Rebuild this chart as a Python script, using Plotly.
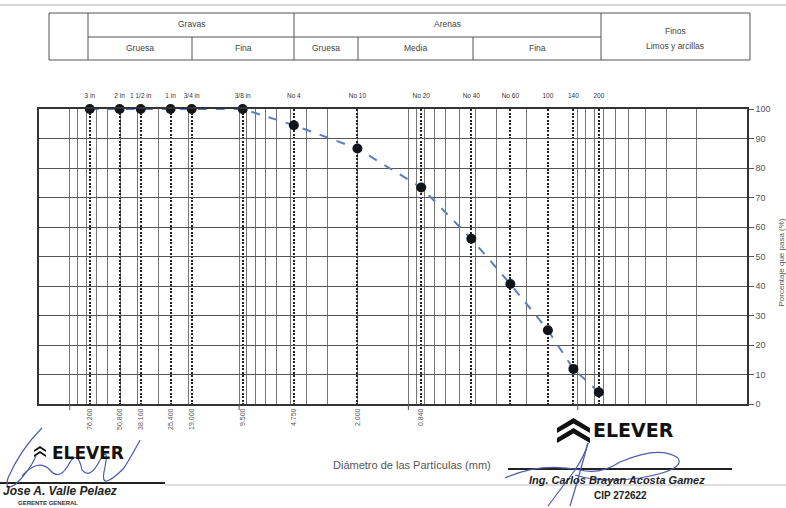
import numpy as np
import plotly.graph_objects as go

# Sieve series (ASTM) and percentage passing
sieve_names = ["3 in", "2 in", "1 1/2 in", "1 in", "3/4 in", "3/8 in", "No 4",
               "No 10", "No 20", "No 40", "No 60", "100", "140", "200"]
sieve_mm = [76.2, 50.8, 38.1, 25.4, 19.05, 9.525, 4.75, 2.0, 0.84, 0.425,
            0.25, 0.15, 0.106, 0.075]
size_labels = ["76.200", "50.800", "38.100", "25.400", "19.000", "9.500",
               "4.750", "2.000", "0.840", "", "", "", "", ""]
pct_passing = [100, 100, 100, 100, 100, 100, 94.5, 86.6, 73.4, 56.0, 40.7,
               25.0, 11.9, 4.0]
pct_ticks = list(range(0, 101, 10))

# Log grid: 1..9 x 10^k between 0.01 and 100 mm, major ticks at decades
grid_mm = [m * 10.0 ** k for k in range(-2, 2) for m in range(1, 10)] + [100]
decade_mm = [100, 10, 1, 0.1]
x_range = [np.log10(152), np.log10(0.01)]

W, H = 786, 508
L, R, T, B = 39, 39, 109, 104
PW, PH = W - L - R, H - T - B


def fx(p):
    return (p - L) / PW


def fy(p):
    return (H - B - p) / PH


FONT = "Liberation Sans, Arial, sans-serif"

fig = go.Figure()
fig.add_trace(go.Scatter(
    x=sieve_mm, y=pct_passing, mode="lines+markers",
    line=dict(color="#5a7fbf", width=2, dash="dash"),
    marker=dict(color="#111418", size=10),
    cliponaxis=False, hoverinfo="x+y"))
# carrier for the top sieve-name axis
fig.add_trace(go.Scatter(
    x=sieve_mm, y=pct_passing, xaxis="x2", mode="markers",
    marker=dict(opacity=0), hoverinfo="skip"))

shapes = []
# decade tick marks below the plot
for d in decade_mm:
    shapes.append(dict(type="line", xref="x", yref="paper", x0=d, x1=d,
                       y0=0, y1=-6 / PH, line=dict(color="#555", width=1)))


def hline(x0, x1, y, color="#555", width=1):
    shapes.append(dict(type="line", xref="paper", yref="paper",
                       x0=fx(x0), x1=fx(x1), y0=fy(y), y1=fy(y),
                       line=dict(color=color, width=width)))


def vline(x, y0, y1, color="#555", width=1):
    shapes.append(dict(type="line", xref="paper", yref="paper",
                       x0=fx(x), x1=fx(x), y0=fy(y0), y1=fy(y1),
                       line=dict(color=color, width=width)))


# soil classification header table
hline(49, 750, 13)
hline(49, 750, 60)
hline(88, 601, 37)
for xv in (49, 88, 294, 601, 750):
    vline(xv, 13, 60)
for xv in (192, 358, 473):
    vline(xv, 37, 60)

# page rules
hline(0, 786, 5, color="#c8c8c8", width=1.5)
hline(165, 786, 485, color="#bdbdbd", width=1)
hline(0, 165, 483, color="#222", width=2)
hline(508, 732, 469, color="#222", width=2)


def path_px(pts, close=True):
    s = "M " + " L ".join(f"{fx(x):.4f},{fy(y):.4f}" for x, y in pts)
    return s + (" Z" if close else "")


def chevrons(x0, x1, ytop, size, gap):
    xc = (x0 + x1) / 2
    for k in range(2):
        yt = ytop + k * gap
        pts = [(x0, yt + size), (xc, yt), (x1, yt + size),
               (x1, yt + size + size * 0.5), (xc, yt + size * 0.55),
               (x0, yt + size + size * 0.5)]
        shapes.append(dict(type="path", xref="paper", yref="paper",
                           path=path_px(pts), fillcolor="#111",
                           line=dict(width=0)))


chevrons(557, 590, 418, 10, 10)
chevrons(34, 46, 446, 4, 5)


def scribble(cmds):
    out = []
    for c in cmds:
        op, *vals = c
        coords = []
        for i in range(0, len(vals), 2):
            coords.append(f"{fx(vals[i]):.4f},{fy(vals[i + 1]):.4f}")
        out.append(op + " " + " ".join(coords))
    shapes.append(dict(type="path", xref="paper", yref="paper",
                       path=" ".join(out),
                       line=dict(color="#4b5bb0", width=1.2)))


# signatures
scribble([("M", 42, 428), ("Q", 20, 450, 8, 478), ("Q", 4, 492, 16, 484),
          ("Q", 30, 470, 36, 456)])
scribble([("M", 22, 476), ("Q", 38, 458, 50, 470), ("Q", 60, 482, 70, 462),
          ("Q", 78, 450, 82, 470), ("Q", 90, 480, 100, 460),
          ("Q", 110, 444, 104, 472), ("Q", 100, 492, 124, 468),
          ("Q", 135, 450, 140, 440)])
scribble([("M", 548, 506), ("L", 575, 470), ("Q", 585, 455, 588, 443)])
scribble([("M", 505, 478), ("Q", 540, 462, 580, 470), ("Q", 600, 475, 620, 462),
          ("Q", 660, 445, 678, 458), ("Q", 686, 470, 640, 478),
          ("Q", 600, 483, 575, 475)])
scribble([("M", 588, 443), ("Q", 578, 480, 570, 506)])

annotations = []


def text(x, y, s, size=8.5, color="#444", xanchor="center", **font_kw):
    annotations.append(dict(
        xref="paper", yref="paper", x=fx(x), y=fy(y), text=s,
        showarrow=False, xanchor=xanchor, yanchor="middle",
        font=dict(family=font_kw.pop("family", FONT), size=size,
                  color=color, **font_kw)))


text(191, 24, "Gravas")
text(447, 24, "Arenas")
text(140, 48, "Gruesa")
text(243, 48, "Fina")
text(326, 48, "Gruesa")
text(415, 48, "Media")
text(537, 48, "Fina")
text(675, 31, "Finos")
text(675, 46, "Limos y arcillas")

text(412, 465, "Diámetro de las Partículas (mm)", size=11, color="#555")

annotations.append(dict(
    xref="paper", yref="paper", x=fx(780.5), y=fy(262),
    text="Porcentaje que pasa (%)", textangle=-90, showarrow=False,
    xanchor="center", yanchor="middle",
    font=dict(family=FONT, size=8, color="#555")))

text(591, 430, "ELEVER", size=19, color="#111", xanchor="left",
     family="DejaVu Sans, sans-serif", weight="bold")
text(50, 453, "ELEVER", size=17, color="#111", xanchor="left",
     family="DejaVu Sans, sans-serif", weight="bold")
text(1, 491, "Jose A. Valle Pelaez", size=12, color="#222", xanchor="left",
     weight="bold", style="italic")
text(48, 503, "GERENTE GENERAL", size=6, color="#333", weight="bold")
text(617, 480, "Ing. Carlos Brayan Acosta Gamez", size=11, color="#222",
     weight="bold", style="italic")
text(620, 495, "CIP 272622", size=10, color="#222", weight="bold")

fig.update_layout(
    width=W, height=H, margin=dict(l=L, r=R, t=T, b=B),
    paper_bgcolor="white", plot_bgcolor="white", showlegend=False,
    font=dict(family=FONT, color="#444"),
    xaxis=dict(
        type="log", range=x_range, tickmode="array", tickvals=sieve_mm,
        ticktext=size_labels, tickangle=-90, ticks="",
        tickfont=dict(size=7, color="#555"),
        showgrid=True, gridcolor="#222", griddash="2px,1.5px", gridwidth=1.8,
        minor=dict(tickmode="array", tickvals=grid_mm, showgrid=True,
                   gridcolor="#777", gridwidth=1, griddash="solid",
                   ticks=""),
        showline=True, mirror=True, linecolor="#333", linewidth=1.5,
        zeroline=False),
    xaxis2=dict(
        type="log", range=x_range, overlaying="x", side="top",
        tickmode="array", tickvals=sieve_mm, ticktext=sieve_names,
        tickangle=0, ticks="outside", ticklen=7,
        tickcolor="rgba(0,0,0,0)", showgrid=False, showline=False,
        zeroline=False, tickfont=dict(size=6.5, color="#333")),
    yaxis=dict(
        range=[0, 100], side="right", tickmode="array", tickvals=pct_ticks,
        ticks="outside", ticklen=5, tickcolor="#555",
        tickfont=dict(size=9, color="#555"),
        showgrid=True, gridcolor="#555", gridwidth=1,
        showline=True, mirror=True, linecolor="#333", linewidth=1.5,
        zeroline=False),
    shapes=shapes, annotations=annotations)

fig.write_html("out.html")
